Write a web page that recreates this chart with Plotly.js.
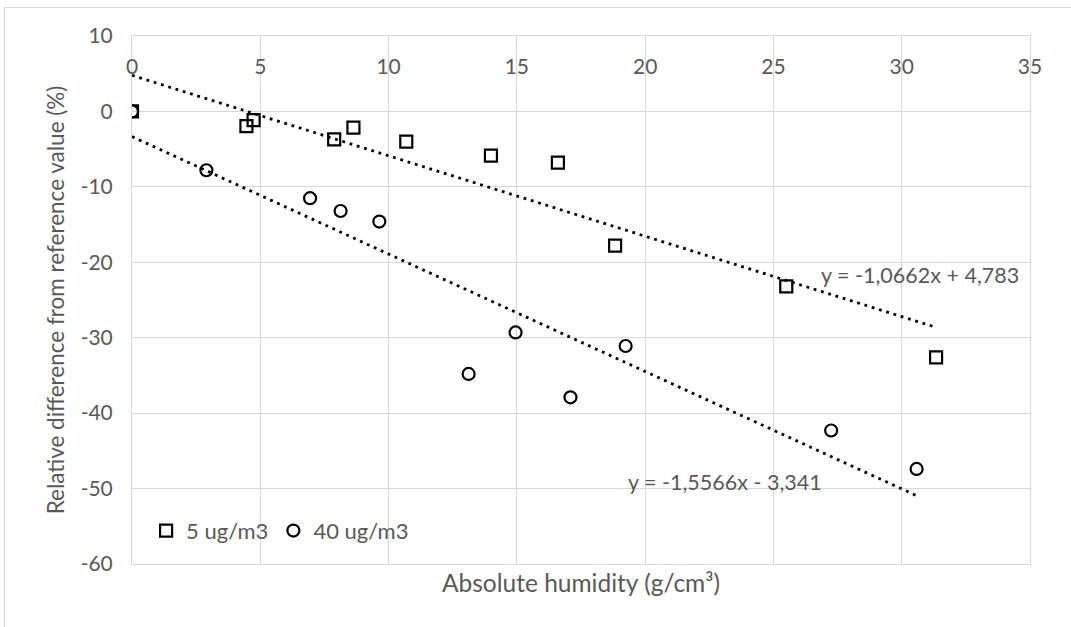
<!DOCTYPE html>
<html>
<head>
<meta charset="utf-8">
<script src="https://cdn.plot.ly/plotly-3.0.1.min.js"></script>
<style>
  html, body { margin: 0; padding: 0; background: #ffffff; }
  #wrap { position: relative; width: 1071px; height: 627px; overflow: hidden; }
  #frame { position: absolute; left: 4px; top: 7px; width: 1080px; height: 640px; border: 1px solid #d9d9d9; box-sizing: border-box; pointer-events: none; }
  #chart { position: absolute; left: 0; top: 0; width: 1071px; height: 627px; }
</style>
</head>
<body>
<div id="wrap">
  <div id="frame"></div>
  <div id="chart"></div>
</div>
<script>
// Data
const seriesNames = ["5 ug/m3", "40 ug/m3"];

const x5 = [0, 4.46, 4.74, 7.88, 8.63, 10.69, 13.99, 16.60, 18.83, 25.50, 31.34];
const y5 = [0, -1.94, -1.14, -3.7, -2.16, -4.0, -5.87, -6.8, -17.8, -23.2, -32.6];

const x40 = [0, 2.90, 6.94, 8.13, 9.64, 13.12, 14.95, 17.09, 19.24, 27.25, 30.58];
const y40 = [0, -7.8, -11.5, -13.2, -14.6, -34.8, -29.3, -37.9, -31.1, -42.3, -47.4];

// Linear trendline coefficients (slope, intercept) shown on the chart
const trendSlope = [-1.0662, -1.5566];
const trendIntercept = [4.783, -3.341];
const trendLabels = ["y = -1,0662x + 4,783", "y = -1,5566x - 3,341"];

const xTickVals = [0, 5, 10, 15, 20, 25, 30, 35];
const yTickVals = [10, 0, -10, -20, -30, -40, -50, -60];

const FONT = "Lato, 'Open Sans', sans-serif";
const GRAY = "#595959";
const GRID = "#d9d9d9";

function trendTrace(xs, k) {
  const xmin = Math.min(...xs), xmax = Math.max(...xs);
  const tx = [xmin, xmax];
  const ty = tx.map(v => trendSlope[k] * v + trendIntercept[k]);
  return {
    x: tx, y: ty, mode: "lines", type: "scatter", showlegend: false, hoverinfo: "skip",
    line: { color: "#000000", width: 2.8, dash: "2.8px,4.8px" }
  };
}

const traces = [
  trendTrace(x5, 0),
  trendTrace(x40, 1),
  {
    x: x5, y: y5, name: seriesNames[0], mode: "markers", type: "scatter",
    marker: { symbol: "square-open", size: 12, color: "#000000", line: { width: 2.2, color: "#000000" } }
  },
  {
    x: x40, y: y40, name: seriesNames[1], mode: "markers", type: "scatter",
    marker: { symbol: "circle-open", size: 12, color: "#000000", line: { width: 2.2, color: "#000000" } }
  },
  // invisible trace to carry the top tick labels axis
  { x: [0], y: [0], xaxis: "x2", mode: "markers", marker: { opacity: 0 }, showlegend: false, hoverinfo: "skip" }
];

const layout = {
  width: 1071, height: 627,
  margin: { l: 132, r: 41, t: 36, b: 63 },
  paper_bgcolor: "rgba(0,0,0,0)",
  plot_bgcolor: "rgba(0,0,0,0)",
  font: { family: FONT, size: 21, color: GRAY },
  showlegend: true,
  legend: {
    orientation: "h", x: 0.0157, y: 0.063, xanchor: "left", yanchor: "middle",
    font: { family: FONT, size: 22, color: GRAY }, bgcolor: "rgba(0,0,0,0)", traceorder: "normal",
    itemwidth: 30
  },
  xaxis: {
    range: [0, 35], tickvals: xTickVals, showticklabels: false,
    showgrid: true, gridcolor: GRID, gridwidth: 1, zeroline: false,
    showline: true, linecolor: GRID, linewidth: 1, mirror: true, ticks: "",
    title: { text: "Absolute humidity (g/cm³)", font: { family: FONT, size: 24.5, color: GRAY }, standoff: 10 },
    automargin: false
  },
  xaxis2: {
    range: [0, 35], tickvals: xTickVals, ticktext: xTickVals.map(String),
    overlaying: "x", anchor: "free", position: 0.969, side: "bottom",
    showgrid: false, zeroline: false, showline: false, ticks: "",
    tickfont: { family: FONT, size: 21, color: GRAY }, automargin: false
  },
  yaxis: {
    range: [-60, 10], tickvals: yTickVals, ticktext: yTickVals.map(String),
    showgrid: true, gridcolor: GRID, gridwidth: 1, zeroline: false,
    showline: true, linecolor: GRID, linewidth: 1, mirror: true, ticks: "",
    ticklabelstandoff: 14,
    tickfont: { family: FONT, size: 21, color: GRAY },
    title: { text: "Relative difference from reference value (%)", font: { family: FONT, size: 22.5, color: GRAY }, standoff: 9 },
    automargin: false
  },
  annotations: [
    { x: 30.7, y: -21.7, xref: "x", yref: "y", text: trendLabels[0], showarrow: false,
      xanchor: "center", yanchor: "middle", font: { family: FONT, size: 21.5, color: GRAY } },
    { x: 23.1, y: -49.1, xref: "x", yref: "y", text: trendLabels[1], showarrow: false,
      xanchor: "center", yanchor: "middle", font: { family: FONT, size: 21.5, color: GRAY } }
  ]
};

Plotly.newPlot("chart", traces, layout, { displayModeBar: false, staticPlot: true });
</script>
</body>
</html>
